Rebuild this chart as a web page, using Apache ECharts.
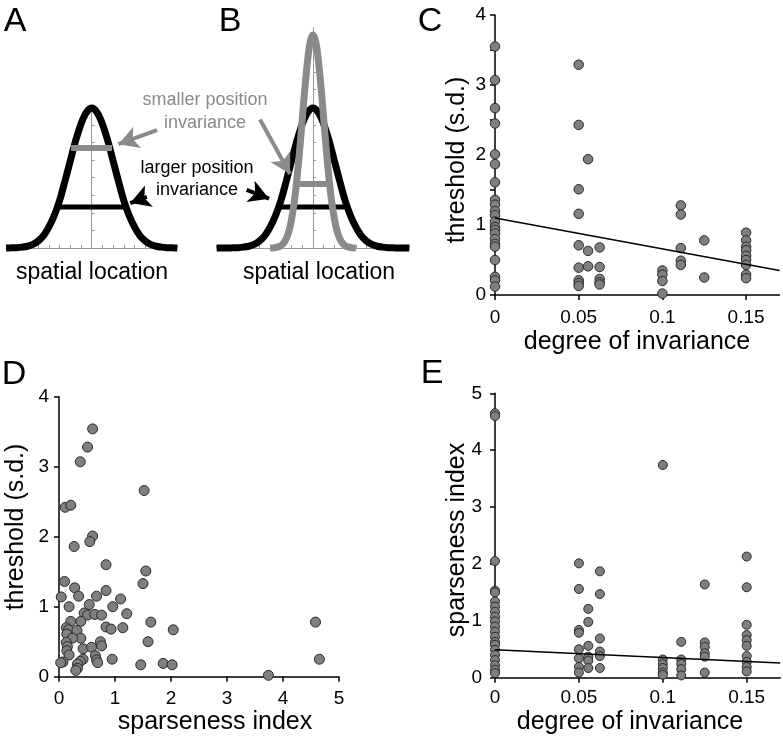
<!DOCTYPE html>
<html>
<head>
<meta charset="utf-8">
<script src="https://cdn.jsdelivr.net/npm/echarts@6/dist/echarts.min.js"></script>
<style>
html,body{margin:0;padding:0;background:#fff;}
#chart{width:783px;height:738px;}
</style>
</head>
<body>
<div id="chart"></div>
<script>
// ---------- Panels A & B: tuning-curve sketches ----------
const curveX = [-9,-8.5,-8,-7.5,-7,-6.5,-6,-5.5,-5,-4.5,-4,-3.5,-3,-2.5,-2,-1.5,-1,-0.5,0,0.5,1,1.5,2,2.5,3,3.5,4,4.5,5,5.5,6,6.5,7,7.5,8,8.5,9];
const wideCurve = [0,0,0,0.01,0.02,0.05,0.1,0.2,0.4,0.7,1.2,1.85,2.7,3.8,4.95,6.1,7.05,7.7,7.95,7.7,7.05,6.1,4.95,3.8,2.7,1.85,1.2,0.7,0.4,0.2,0.1,0.05,0.02,0.01,0,0,0];
const narrowX = [-4,-3.75,-3.5,-3.25,-3,-2.75,-2.5,-2.25,-2,-1.75,-1.5,-1.25,-1,-0.75,-0.5,-0.25,0,0.25,0.5,0.75,1,1.25,1.5,1.75,2,2.25,2.5,2.75,3,3.25,3.5,3.75,4];
const narrowCurve = [0,0,0.03,0.06,0.13,0.28,0.53,0.96,1.64,2.62,3.93,5.54,7.34,9.13,10.68,11.73,12.1,11.73,10.68,9.13,7.34,5.54,3.93,2.62,1.64,0.96,0.53,0.28,0.13,0.06,0.03,0,0];
const barA_small = [[-1.93,5.68],[1.9,5.68]];
const barA_large = [[-3.22,2.33],[3.08,2.33]];
const barB_small = [[-1.5,3.64],[1.45,3.64]];
const barB_large = [[-3.27,2.33],[3.27,2.33]];
const arrowA_gray = [[6.1,6.7],[2.5,5.9]];
const arrowA_black = [[5.15,2.9],[3.6,2.55]];
const arrowB_gray = [[-4.95,7.3],[-2.15,4.2]];
const arrowB_black = [[-6.2,3.3],[-4.1,2.8]];

// ---------- Panel C: threshold vs degree of invariance ----------
const panelC = [
  [0,3.55],[0,3.07],[0,2.67],[0,2.45],[0,2.01],[0,1.87],[0,1.61],[0,1.36],[0,1.29],[0,1.2],[0,1.14],
  [0,1.05],[0,0.97],[0,0.93],[0,0.88],[0,0.8],[0,0.73],[0,0.69],[0,0.5],[0,0.26],[0,0.21],[0,0.12],
  [0.05,3.29],[0.05,2.43],[0.05,1.51],[0.05,1.16],[0.05,0.71],[0.05,0.39],[0.05,0.21],[0.05,0.17],[0.05,0.13],
  [0.0556,1.94],[0.0556,0.63],[0.0556,0.41],
  [0.0625,0.68],[0.0625,0.4],[0.0625,0.23],[0.0625,0.18],[0.0625,0.15],
  [0.1,0.35],[0.1,0.29],[0.1,0.2],[0.1,0.02],
  [0.111,1.28],[0.111,1.15],[0.111,0.67],[0.111,0.49],[0.111,0.43],
  [0.125,0.78],[0.125,0.25],
  [0.15,0.89],[0.15,0.78],[0.15,0.69],[0.15,0.64],[0.15,0.56],[0.15,0.5],[0.15,0.43],[0.15,0.29],[0.15,0.24]
];
const fitC = [[0,1.1],[0.17,0.35]];
const ticksC_x = [0,0.05,0.1,0.15];
const ticksC_y = [0,0.5,1,1.5,2,2.5,3,3.5,4];
const labelsC_y = [0,1,2,3,4];

// ---------- Panel D: threshold vs sparseness index ----------
const panelD = [
  [0.60,3.54],[0.51,3.28],[0.38,3.07],[1.52,2.66],[0.11,2.42],[0.21,2.45],[0.60,2.01],[0.55,1.93],[0.27,1.86],
  [0.84,1.60],[1.55,1.51],[1.50,1.33],[0.10,1.36],[0.04,1.14],[0.28,1.27],[0.35,1.15],[0.18,1.0],[0.84,1.23],
  [0.67,1.15],[0.54,1.03],[1.10,1.11],[0.96,1.0],[0.45,0.91],[0.51,0.88],[0.64,0.89],[0.76,0.88],[1.21,0.9],
  [0.21,0.79],[0.39,0.79],[0.84,0.71],[0.93,0.68],[1.14,0.70],[1.64,0.78],[2.04,0.67],[4.58,0.78],[4.65,0.25],
  [3.74,0.02],[0.13,0.70],[0.17,0.67],[0.14,0.61],[0.32,0.66],[0.39,0.55],[0.24,0.55],[0.74,0.5],[0.76,0.44],
  [1.59,0.5],[0.13,0.49],[0.15,0.43],[0.14,0.37],[0.18,0.31],[0.43,0.4],[0.58,0.42],[0.65,0.30],[0.67,0.24],
  [0.69,0.2],[0.43,0.25],[0.38,0.22],[0.33,0.18],[0.33,0.12],[0.30,0.09],[0.07,0.21],[0.03,0.2],[0.95,0.25],
  [1.46,0.17],[1.86,0.19],[2.02,0.17]
];
const ticksD_x = [0,1,2,3,4,5];
const ticksD_y = [0,1,2,3,4];

// ---------- Panel E: sparseness index vs degree of invariance ----------
const panelE = [
  [0,4.65],[0,4.6],[0,2.05],[0,1.53],[0,1.5],[0,1.34],[0,1.25],[0,1.16],[0,1.07],[0,0.99],[0,0.9],
  [0,0.81],[0,0.72],[0,0.63],[0,0.58],[0,0.49],[0,0.4],[0,0.31],[0,0.22],[0,0.14],[0,0.08],
  [0.05,2.01],[0.05,1.56],[0.05,0.84],[0.05,0.79],[0.05,0.5],[0.05,0.34],[0.05,0.19],[0.05,0.09],
  [0.0556,1.21],[0.0556,0.98],[0.0556,0.56],[0.0556,0.37],[0.0556,0.3],[0.0556,0.17],
  [0.0625,1.87],[0.0625,1.47],[0.0625,0.69],[0.0625,0.46],[0.0625,0.38],[0.0625,0.17],
  [0.1,3.74],[0.1,0.32],[0.1,0.24],[0.1,0.17],[0.1,0.09],[0.1,0.05],
  [0.111,0.63],[0.111,0.32],[0.111,0.24],[0.111,0.15],[0.111,0.04],
  [0.125,1.64],[0.125,0.62],[0.125,0.54],[0.125,0.43],[0.125,0.37],[0.125,0.09],
  [0.15,2.13],[0.15,1.59],[0.15,0.93],[0.15,0.75],[0.15,0.66],[0.15,0.56],[0.15,0.38],[0.15,0.28],[0.15,0.19],[0.15,0.11]
];
const fitE = [[0,0.49],[0.17,0.26]];
const ticksE_x = [0,0.05,0.1,0.15];
const ticksE_y = [0,1,2,3,4,5];

// ---------- rendering ----------
const FONT = 'Liberation Sans, Arial, Helvetica, sans-serif';
const GRAY = '#8a8a8a';
const DOT = '#7f7f7f';
const chart = echarts.init(document.getElementById('chart'), null, {renderer: 'canvas'});

function zip(xs, ys) { return xs.map((x, i) => [x, ys[i]]); }
const wideB = zip(curveX, wideCurve);
const wideA = wideB.filter(p => Math.abs(p[0]) <= 8);
const narrowB = zip(narrowX, narrowCurve);

function sketchX(idx, mn, mx) {
  return {gridIndex: idx, type: 'value', min: mn, max: mx, interval: 1,
    axisLine: {onZero: true, lineStyle: {color: '#999', width: 1}},
    axisTick: {inside: true, length: 3, lineStyle: {color: '#999', width: 1}},
    axisLabel: {show: false}, splitLine: {show: false}};
}
function sketchY(idx, mx, ticks) {
  return {gridIndex: idx, type: 'value', min: 0, max: mx,
    axisLine: {onZero: true, lineStyle: {color: '#999', width: 1}},
    axisTick: {inside: true, length: 3, customValues: ticks, lineStyle: {color: '#999', width: 1}},
    axisLabel: {show: false}, splitLine: {show: false}};
}
function dataX(idx, mx, tickVals, margin) {
  return {gridIndex: idx, type: 'value', min: 0, max: mx,
    axisLine: {onZero: false, lineStyle: {color: '#000', width: 1.5}},
    axisTick: {customValues: tickVals, length: 5, lineStyle: {color: '#000', width: 1.5}},
    axisLabel: {customValues: tickVals, fontSize: 19, fontFamily: FONT, color: '#000', margin: margin,
      formatter: v => String(v)},
    splitLine: {show: false}};
}
function dataY(idx, mx, tickVals, labelVals, margin) {
  return {gridIndex: idx, type: 'value', min: 0, max: mx,
    axisLine: {onZero: false, lineStyle: {color: '#000', width: 1.5}},
    axisTick: {customValues: tickVals, length: 5, lineStyle: {color: '#000', width: 1.5}},
    axisLabel: {customValues: labelVals, fontSize: 19, fontFamily: FONT, color: '#000', margin: margin},
    splitLine: {show: false}};
}
function lineSeries(idx, data, color, width) {
  return {type: 'line', xAxisIndex: idx, yAxisIndex: idx, data: data, showSymbol: false, symbol: 'none',
    clip: false, lineStyle: {color: color, width: width, cap: 'butt'}, silent: true};
}
function smoothSeries(idx, data, color, width) {
  const s = lineSeries(idx, data, color, width);
  s.smooth = 0.35;
  return s;
}
function arrowSeries(idx, seg, color) {
  return {type: 'line', xAxisIndex: idx, yAxisIndex: idx, data: [], silent: true,
    markLine: {silent: true, animation: false, symbol: ['none', 'arrow'], symbolSize: [17, 20],
      label: {show: false}, lineStyle: {color: color, width: 4, type: 'solid'},
      emphasis: {disabled: true},
      data: [[{coord: seg[0]}, {coord: seg[1]}]]}};
}
function scatter(idx, data, size) {
  return {type: 'scatter', xAxisIndex: idx, yAxisIndex: idx, data: data, symbolSize: size, clip: false,
    itemStyle: {color: DOT, borderColor: '#2a2a2a', borderWidth: 1, opacity: 1}, silent: true};
}

function txt(text, x, y, size, color, rot) {
  return {type: 'text', x: x, y: y, rotation: rot || 0, silent: true,
    style: {text: text, font: size + 'px ' + FONT, fill: color || '#000', align: 'center', verticalAlign: 'middle'}};
}

const option = {
  animation: false,
  backgroundColor: '#fff',
  grid: [
    {left: 6.1, top: 248 - 8 * 17.6, width: 171.2, height: 8 * 17.6},
    {left: 313 - 9 * 10.7, top: 248 - 12.5 * 17.6, width: 18 * 10.7, height: 12.5 * 17.6},
    {left: 495, top: 15, width: 0.17 * 1674, height: 280},
    {left: 59, top: 396.7, width: 280, height: 280},
    {left: 495, top: 393.3, width: 0.17 * 1678, height: 284.4}
  ],
  xAxis: [
    sketchX(0, -8, 8),
    sketchX(1, -9, 9),
    dataX(2, 0.17, ticksC_x, 13),
    {gridIndex: 3, type: 'value', min: 0, max: 5, interval: 1,
      axisLine: {onZero: false, lineStyle: {color: '#000', width: 1.5}},
      axisTick: {length: 5, lineStyle: {color: '#000', width: 1.5}},
      axisLabel: {customValues: ticksD_x, fontSize: 19, fontFamily: FONT, color: '#000', margin: 13},
      splitLine: {show: false}},
    dataX(4, 0.17, ticksE_x, 11)
  ],
  yAxis: [
    sketchY(0, 8, [0,1,2,3,4,5,6,7,8]),
    sketchY(1, 12.5, [0,1,2,3,4,5,6,7,8,9,10,11,12]),
    dataY(2, 4, ticksC_y, labelsC_y, 9),
    dataY(3, 4, ticksD_y, ticksD_y, 10),
    dataY(4, 5, ticksE_y, ticksE_y, 13)
  ],
  series: [
    // A
    smoothSeries(0, wideA, '#000', 7),
    lineSeries(0, barA_small, GRAY, 6),
    lineSeries(0, barA_large, '#000', 5),
    arrowSeries(0, arrowA_gray, GRAY),
    arrowSeries(0, arrowA_black, '#000'),
    // B
    smoothSeries(1, wideB, '#000', 7),
    lineSeries(1, barB_large, '#000', 5),
    smoothSeries(1, narrowB, GRAY, 7),
    lineSeries(1, barB_small, GRAY, 6),
    arrowSeries(1, arrowB_gray, GRAY),
    arrowSeries(1, arrowB_black, '#000'),
    // C
    scatter(2, panelC, 9.5),
    lineSeries(2, fitC, '#000', 1.5),
    // D
    scatter(3, panelD, 10),
    // E
    scatter(4, panelE, 9),
    lineSeries(4, fitE, '#000', 1.5)
  ],
  graphic: [
    txt('A', 15, 22, 34), txt('B', 230, 22, 34), txt('C', 430, 22, 34),
    txt('D', 14, 375, 34), txt('E', 432, 374, 34),
    txt('spatial location', 92, 273, 23), txt('spatial location', 319, 273, 23),
    txt('smaller position', 205, 100, 18, GRAY), txt('invariance', 205, 123, 18, GRAY),
    txt('larger position', 197, 168, 18), txt('invariance', 197, 190, 18),
    txt('threshold (s.d.)', 457, 160, 25, '#000', Math.PI / 2),
    txt('degree of invariance', 637, 342, 25),
    txt('threshold (s.d.)', 16, 527, 25, '#000', Math.PI / 2),
    txt('sparseness index', 215, 722, 25),
    txt('sparseness index', 457, 540, 25, '#000', Math.PI / 2),
    txt('degree of invariance', 630, 722, 25)
  ]
};
chart.setOption(option);
</script>
</body>
</html>
